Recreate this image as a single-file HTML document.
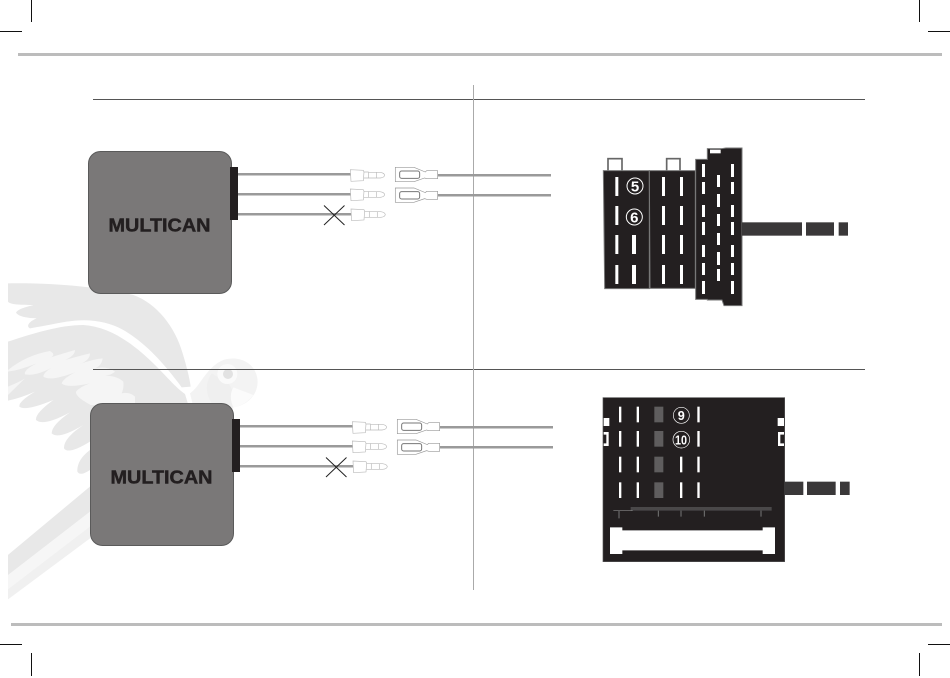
<!DOCTYPE html>
<html><head><meta charset="utf-8"><style>html,body{margin:0;padding:0;background:#fff}svg{display:block}</style></head><body>
<svg xmlns="http://www.w3.org/2000/svg" xmlns:xlink="http://www.w3.org/1999/xlink" width="950" height="678" viewBox="0 0 950 678">
<defs>
<g id="term">
<path d="M361 59 L400 61 L402 66 L400 92 L363 94 Z" fill="#fff" stroke="#bbb" stroke-width="2"/>
<path d="M402 66 H416 M402 84 H416" fill="none" stroke="#bbb" stroke-width="2"/>
<path d="M416 67 H450 Q463 69 464 76 Q462 83 450 84 H416 Z M440 67 V84" fill="#fff" stroke="#bbb" stroke-width="2"/>
</g>
<g id="fem">
<path d="M496 52 H552 L586 66 L590 62 H623 V86 H590 L584 84 L552 95 H496 Z" fill="#fff" stroke="#999" stroke-width="2"/>
<rect x="509" y="63" width="60" height="22" rx="6" fill="#fff" stroke="#777" stroke-width="3"/>
</g>
<g id="mod">
<rect x="88.5" y="151.5" width="143" height="142" rx="12" fill="#7a7878" stroke="#5a5a5a" stroke-width="1"/>
<rect x="230" y="167" width="8" height="53" fill="#231f20"/>
<rect x="238" y="173" width="113" height="2.5" fill="#9a9a9a"/>
<rect x="238" y="193" width="113" height="2.5" fill="#9a9a9a"/>
<rect x="238" y="213" width="113" height="2.5" fill="#9a9a9a"/>
<text x="159.5" y="231.500" text-anchor="middle" font-family="'Liberation Sans',sans-serif" font-weight="bold" font-size="18" fill="#231f20" stroke="#231f20" stroke-width=".45" textLength="102" lengthAdjust="spacingAndGlyphs">MULTICAN</text>
<path d="M324 205.500 L344.500 225 M344.500 205.500 L324 225" stroke="#222" stroke-width="1"/>
<g transform="translate(230,150) scale(.3333)">
<use xlink:href="#term"/>
<use xlink:href="#term" y="58"/>
<use xlink:href="#term" x="2" y="118"/>
<use xlink:href="#fem"/>
<use xlink:href="#fem" y="62"/>
</g>
<rect x="438" y="174" width="113" height="2.500" fill="#9a9a9a"/>
<rect x="438" y="194" width="113" height="2.500" fill="#9a9a9a"/>
</g>
</defs>

<!-- bird -->
<g transform="translate(0,270) scale(.33333)">
<path d="M24 40 C150 38 300 50 400 75 C470 100 525 170 548 250 C560 290 568 320 572 350 L545 352 C500 290 440 220 370 180 C320 152 260 145 200 155 C160 162 120 170 90 175 C78 170 85 155 110 145 C85 145 55 140 48 128 C55 115 85 110 100 105 C70 105 30 105 24 95 Z" fill="#e8e8e8"/>
<path d="M24 215 C100 190 180 165 250 165 C330 170 400 220 470 290 C500 320 530 355 555 372 L565 405 L290 405 L270 600 Q240 620 232 605 Q230 570 270 540 L270 515 Q205 555 192 535 Q190 505 250 465 Q175 510 155 490 Q155 465 210 427 Q130 470 108 450 Q105 430 160 390 Q75 425 58 410 Q55 395 105 365 Q60 385 24 392 Z" fill="#e8e8e8"/>
<g transform="translate(0,195)">
<path d="M24 105 Q80 60 150 48 Q170 60 150 68 Q190 55 225 45 Q225 62 195 75 Q240 62 270 55 Q270 75 240 87 Q280 72 308 70 Q305 92 285 100 Q320 92 345 110 Q335 120 315 122 Q350 122 370 140 Q372 160 365 175 Q390 170 405 185 L405 210 L272 210 Q225 185 228 170 Q240 155 270 145 Q200 160 185 145 Q190 130 225 112 Q150 140 130 125 Q130 110 170 90 Q110 125 75 118 Q70 105 110 85 Q60 105 24 110 Z" fill="#f5f5f5"/>
<path d="M24 155 Q60 140 75 130 L24 180 Z" fill="#f5f5f5"/>
</g>
<g transform="translate(510,240)">
<path d="M60 130 C90 110 110 50 160 30 C210 15 255 40 262 85 C268 125 240 165 190 172 L185 190 L75 190 Z" fill="#f3f3f3"/>
<path d="M125 70 C105 100 105 135 130 165 L190 172 C200 150 190 120 175 100 Z" fill="#efefef"/>
<path d="M190 112 L250 135 C235 155 215 168 190 172 C180 150 180 130 190 112 Z" fill="#fbfbfb"/>
<circle cx="172" cy="72" r="30" fill="#fafafa"/>
<circle cx="174" cy="72" r="15" fill="#e2e2e2"/>
</g>
</g>
<g transform="translate(0,480) scale(.33333)">
<path d="M24 225 L270 20 V175 L24 358 Z" fill="#f0f0f0"/>
<path d="M24 225 L270 20 V95 L24 285 Z" fill="#e8e8e8"/>
<path d="M24 285 L270 95 V140 L24 328 Z" fill="#f6f6f6"/>
</g>

<!-- page rules and crop marks -->
<rect x="18" y="53" width="924" height="3" fill="#bcbcbc"/>
<rect x="11" y="623" width="931" height="3" fill="#bcbcbc"/>
<g stroke="#111" stroke-width="1" fill="none">
<path d="M31.500 0 V22 M0 31.500 H22 M919.500 0 V22 M928 31.500 H950"/>
<path d="M0 644.500 H22 M31.500 653 V676 M928 644.500 H950 M919.500 653 V676"/>
</g>
<rect x="93" y="99" width="772" height="1" fill="#555"/>
<rect x="93" y="369" width="772" height="1" fill="#555"/>
<rect x="473" y="85" width="1" height="505" fill="#aaa"/>

<use xlink:href="#mod"/>
<use xlink:href="#mod" x="2" y="252"/>

<!-- top connector -->
<g transform="translate(590,140) scale(.33333)">
<rect x="54" y="56" width="42" height="38" fill="#fff" stroke="#666" stroke-width="5"/>
<rect x="230" y="56" width="40" height="38" fill="#fff" stroke="#666" stroke-width="5"/>
<path d="M40 92 H178 V446 H44 Z" fill="#231f20" stroke="#777" stroke-width="3"/>
<path d="M178 92 H316 V445 H180 Z" fill="#231f20" stroke="#777" stroke-width="3"/>
<path d="M317 58 H352 V26 H396 L408 24 H456 V497 H402 L396 480 H352 V478 H317 Z" fill="#231f20" stroke="#777" stroke-width="3"/>
<rect x="360" y="29" width="32" height="11" fill="#fff"/>
<rect x="357" y="482" width="34" height="12" fill="#fff"/>
<g fill="#fff">
<rect x="76" y="111" width="9" height="57"/><rect x="76" y="198" width="9" height="57"/><rect x="76" y="285" width="9" height="57"/><rect x="76" y="375" width="9" height="57"/>
<rect x="126" y="285" width="12" height="57"/><rect x="126" y="375" width="12" height="57"/>
<rect x="216" y="111" width="9" height="57"/><rect x="216" y="198" width="9" height="57"/><rect x="216" y="285" width="9" height="57"/><rect x="216" y="375" width="9" height="57"/>
<rect x="270" y="111" width="9" height="57"/><rect x="270" y="198" width="9" height="57"/><rect x="270" y="285" width="9" height="57"/><rect x="270" y="375" width="9" height="57"/>
<rect x="336" y="72" width="9" height="39"/><rect x="336" y="126" width="9" height="36"/><rect x="336" y="195" width="9" height="36"/><rect x="336" y="246" width="9" height="39"/><rect x="336" y="315" width="9" height="36"/><rect x="336" y="369" width="9" height="36"/><rect x="336" y="423" width="9" height="39"/>
<rect x="381" y="105" width="9" height="36"/><rect x="381" y="162" width="9" height="39"/><rect x="381" y="222" width="9" height="36"/><rect x="381" y="279" width="9" height="36"/><rect x="381" y="336" width="9" height="39"/><rect x="381" y="387" width="9" height="36"/>
<rect x="423" y="72" width="9" height="39"/><rect x="423" y="126" width="9" height="36"/><rect x="423" y="195" width="9" height="36"/><rect x="423" y="246" width="9" height="39"/><rect x="423" y="315" width="9" height="36"/><rect x="423" y="369" width="9" height="36"/><rect x="423" y="423" width="9" height="39"/>
</g>
<g fill="#3a3839">
<rect x="456" y="247" width="180" height="40"/><rect x="648" y="247" width="84" height="40"/><rect x="746" y="247" width="28" height="40"/>
</g>
<circle cx="135" cy="138" r="24" fill="#231f20" stroke="#fff" stroke-width="3"/>
<circle cx="133" cy="231" r="24" fill="#231f20" stroke="#fff" stroke-width="3"/>
<text x="135" y="155" text-anchor="middle" font-family="'Liberation Sans',sans-serif" font-weight="bold" font-size="45" fill="#fff">5</text>
<text x="133" y="248" text-anchor="middle" font-family="'Liberation Sans',sans-serif" font-weight="bold" font-size="45" fill="#fff">6</text>
</g>

<!-- bottom connector -->
<g transform="translate(590,390) scale(.33333)">
<rect x="39" y="23" width="545" height="492" fill="#231f20" stroke="#555" stroke-width="2"/>
<g fill="#fff">
<rect x="41" y="84" width="17" height="24"/><rect x="563" y="84" width="19" height="24"/>
<path d="M41 126 H56 V168 H41 V160 H49 V134 H41 Z"/>
<path d="M582 126 H564 V168 H582 V160 H571 V134 H582 Z"/>
<rect x="87" y="50" width="7" height="47"/><rect x="87" y="123" width="7" height="47"/><rect x="87" y="200" width="7" height="47"/><rect x="87" y="277" width="7" height="47"/>
<rect x="140" y="50" width="7" height="47"/><rect x="140" y="123" width="7" height="47"/><rect x="140" y="200" width="7" height="47"/><rect x="140" y="277" width="7" height="47"/>
<rect x="270" y="200" width="7" height="47"/><rect x="270" y="277" width="7" height="47"/>
<rect x="322" y="50" width="7" height="47"/><rect x="322" y="123" width="7" height="47"/><rect x="322" y="200" width="7" height="47"/><rect x="322" y="277" width="7" height="47"/>
<path d="M60 412 H97 V421 H518 V412 H555 V492 H518 V481 H97 V492 H60 Z"/>
</g>
<g fill="#5f5d5e">
<rect x="193" y="50" width="27" height="47"/><rect x="193" y="123" width="27" height="47"/><rect x="193" y="200" width="27" height="47"/><rect x="193" y="277" width="27" height="47"/>
</g>
<path d="M70 362 H122 V351 H545 V362 H130 Z" fill="#4a4849"/>
<path d="M70 362 H128" stroke="#888" stroke-width="2"/>
<path d="M87 362 V385 M205 362 V380 M273 362 V380 M343 362 V380 M513 362 V380" stroke="#777" stroke-width="3"/>
<g fill="#3a3839">
<rect x="584" y="275" width="56" height="40"/><rect x="651" y="275" width="86" height="40"/><rect x="750" y="275" width="29" height="40"/>
</g>
<circle cx="274" cy="76" r="24" fill="#231f20" stroke="#fff" stroke-width="2"/>
<circle cx="274" cy="149" r="25" fill="#231f20" stroke="#fff" stroke-width="2"/>
<text x="274" y="90" text-anchor="middle" font-family="'Liberation Sans',sans-serif" font-weight="bold" font-size="38" fill="#fff">9</text>
<text x="273" y="163" text-anchor="middle" font-family="'Liberation Sans',sans-serif" font-weight="bold" font-size="38" fill="#fff" textLength="36" lengthAdjust="spacingAndGlyphs">10</text>
</g>
</svg>
</body></html>
